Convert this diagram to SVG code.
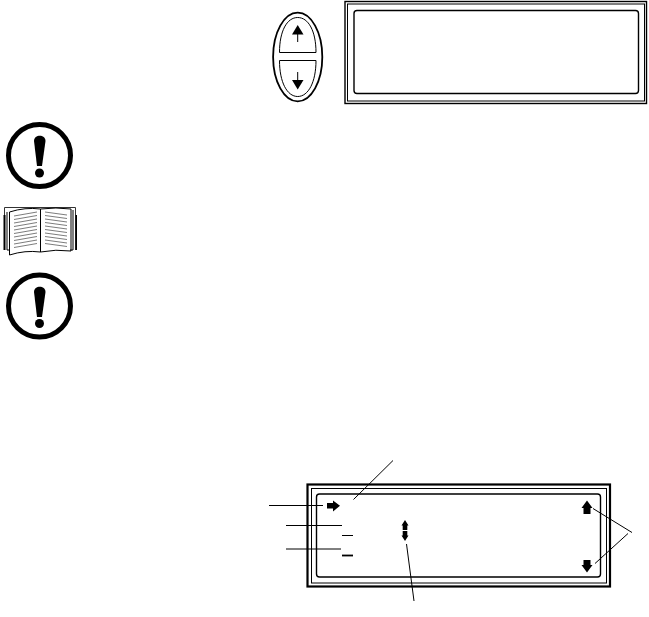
<svg xmlns="http://www.w3.org/2000/svg" width="649" height="617" viewBox="0 0 649 617">
<style>
.l{fill:none;stroke:#000;stroke-width:1}
.t{fill:none;stroke:#000;stroke-width:1.4}
.f{fill:#000;stroke:none}
.ring{fill:none;stroke:#000;stroke-width:5}
.p{fill:none;stroke:#444;stroke-width:.7}
</style>
<rect width="649" height="617" fill="#fff"/>
<g id="updown-buttons">
<ellipse cx="297.700" cy="57" rx="24.600" ry="44.300" fill="none" stroke="#000" stroke-width="1.800"/>
<path class="l" d="M279.500 52.500C279.500 31 287 17.500 297.700 17.500S316 31 316 52.500Z"/>
<path class="l" d="M279.500 60.500C279.500 82 287 96.500 297.700 96.500S316 82 316 60.500Z"/>
<path class="f" d="M297.700 25L303.500 34.500H292Z"/>
<path class="l" d="M297.700 33V42"/>
<path class="f" d="M297.700 89.500L303.500 80H292Z"/>
<path class="l" d="M297.700 72V81"/>
</g>
<g id="lcd-top">
<rect class="t" x="345" y="1.500" width="301.500" height="102"/>
<rect class="l" x="347.500" y="4" width="297" height="97"/>
<rect class="t" x="354" y="10.500" width="284.500" height="83" rx="3"/>
</g>
<g id="warning-1">
<circle class="ring" cx="39.500" cy="155.500" r="31"/>
<path class="f" d="M34 141C34 134 45.500 134 45.500 141L42 166H37Z"/>
<circle class="f" cx="39.500" cy="173" r="4.500"/>
</g>
<g id="book">
<path d="M4.500 207.500H75.500V250M4.500 207.500V250" fill="none" stroke="#333" stroke-width="1"/>
<path class="f" d="M3.500 215H5.500V250H3.500ZM75.500 215H77V250H75.500Z"/>
<path class="l" d="M7 212V250H10M73 210V250H70"/>
<path class="l" d="M9.500 212Q25 207 40.500 209V252Q25 250 9.500 255ZM40.500 209Q56 207 71 209V251Q56 249 40.500 252Z"/>
<path class="p" d="M14 216L37 212M14 219.500L37 215.500M14 223L37 219M14 226.500L37 222.500M14 230L37 226M14 233.500L37 229.500M14 237L37 233M14 240.500L37 236.500M14 244L37 240M14 247.500L37 243.500"/>
<path class="p" d="M45 212L67 215M45 215.500L67 218.500M45 219L67 222M45 222.500L67 225.500M45 226L67 229M45 229.500L67 232.500M45 233L67 236M45 236.500L67 239.500M45 240L67 243M45 243.500L67 246.500"/>
</g>
<g id="warning-2">
<circle class="ring" cx="39.500" cy="306" r="31"/>
<path class="f" d="M34 292C34 285 45.500 285 45.500 292L42 317H37Z"/>
<circle class="f" cx="39.500" cy="323.500" r="4.500"/>
</g>
<g id="lcd-bottom">
<rect x="307.500" y="484.500" width="302.500" height="102" fill="none" stroke="#000" stroke-width="2.200"/>
<rect class="l" x="311.500" y="488.500" width="295" height="94.500"/>
<rect class="t" x="316.500" y="494" width="284" height="83" rx="3"/>
<path class="f" d="M327 503H333V500.500L340 505.800L333 511.500V508.500H327Z"/>
<path class="f" d="M587 500.500L592.500 508H590.500V514H583.500V508H581.500Z"/>
<path class="f" d="M587 572.500L592.500 565H590.500V560H583.500V565H581.500Z"/>
<path class="f" d="M405 520L408.500 525.500H407.300V530H402.700V525.500H401.500Z"/>
<path class="f" d="M405 541L408.500 535.500H407.300V531H402.700V535.500H401.500Z"/>
<path class="l" d="M342 535.500H353"/>
<path d="M342 555.500H353" fill="none" stroke="#000" stroke-width="1.800"/>
</g>
<g id="connectors">
<path class="l" d="M393 460.500L353.500 499.500"/>
<path class="l" d="M269 505.500H323"/>
<path class="l" d="M286 525.500H342"/>
<path class="l" d="M286 549H341"/>
<path class="l" d="M406.500 544L414 601"/>
<path class="l" d="M593 508.500L632 532.500"/>
<path class="l" d="M628 533.500L595 563.500"/>
</g>
</svg>
